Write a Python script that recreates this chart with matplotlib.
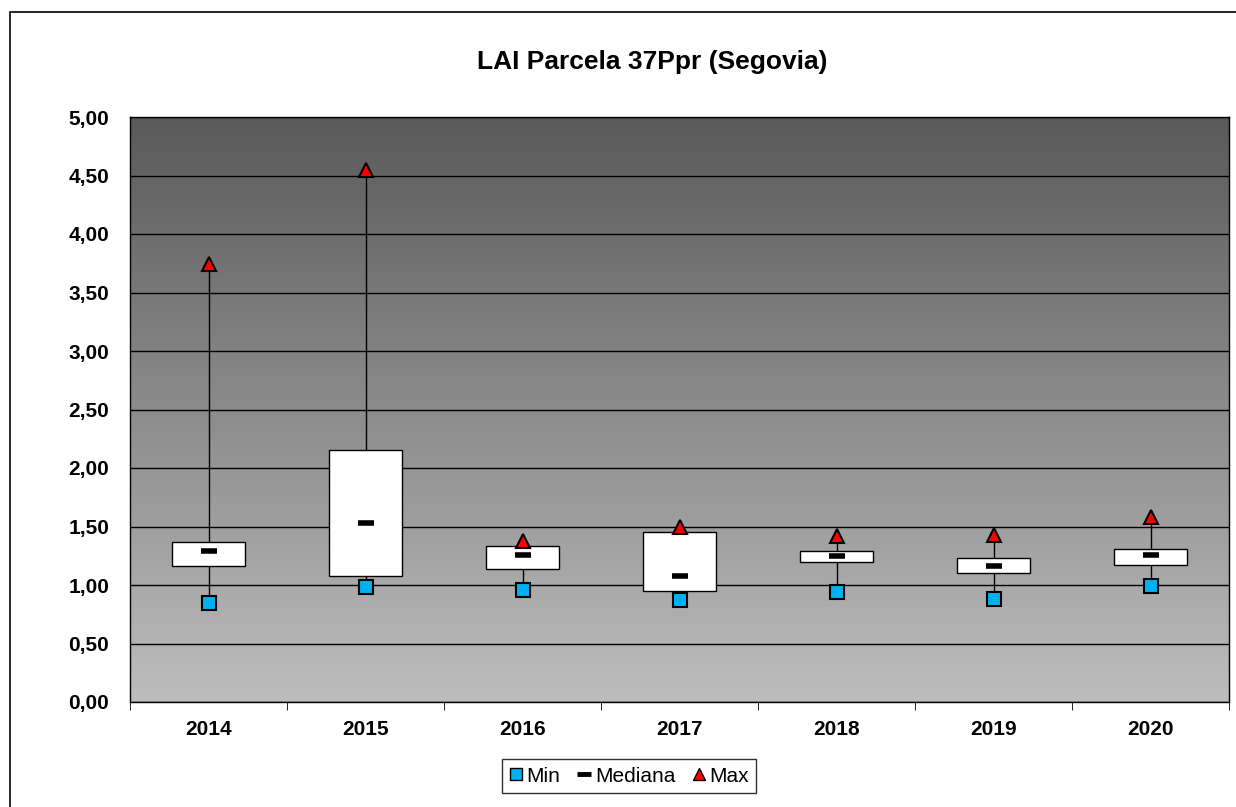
import numpy as np
import matplotlib.pyplot as plt
from matplotlib.patches import Rectangle
from matplotlib.lines import Line2D
from matplotlib.colors import LinearSegmentedColormap

plt.rcParams['font.family'] = ['Liberation Sans', 'DejaVu Sans']

years = ["2014", "2015", "2016", "2017", "2018", "2019", "2020"]
lai_min = [0.85, 0.98, 0.96, 0.87, 0.94, 0.88, 0.99]
lai_q1 = [1.16, 1.08, 1.14, 0.95, 1.20, 1.10, 1.17]
lai_median = [1.29, 1.53, 1.26, 1.08, 1.25, 1.16, 1.26]
lai_q3 = [1.37, 2.15, 1.33, 1.45, 1.29, 1.23, 1.31]
lai_max = [3.74, 4.55, 1.38, 1.50, 1.42, 1.43, 1.58]
yticks = [0, 0.5, 1, 1.5, 2, 2.5, 3, 3.5, 4, 4.5, 5]

fig = plt.figure(figsize=(12.36, 8.07), dpi=100)
ax = fig.add_axes([130/1236, 105/807, 1099/1236, 585/807])

# outer chart border
fig.patches.append(Rectangle((10/1236, -0.05), 1.2, 1 - 12/807 + 0.05,
                             transform=fig.transFigure, fill=False,
                             edgecolor='black', linewidth=1.2))

# gradient background
grad = np.linspace(0, 1, 256).reshape(-1, 1)
cmap = LinearSegmentedColormap.from_list('g', ['#bdbdbd', '#5a5a5a'])
ax.imshow(grad, extent=[0, 1, 0, 1], transform=ax.transAxes, aspect='auto',
          cmap=cmap, origin='lower', zorder=0)

x = np.arange(len(years))
ax.vlines(x, lai_min, lai_max, color='black', linewidth=1, zorder=3)
heights = [b - a for a, b in zip(lai_q1, lai_q3)]
ax.bar(x, heights, bottom=lai_q1, width=0.46, color='white',
       edgecolor='black', linewidth=1, zorder=4)
ax.plot(x, lai_min, 's', color='#00b0f0', markeredgecolor='black',
        markersize=9.5, markeredgewidth=1.5, zorder=5)
ax.plot(x, lai_median, '_', color='black', markersize=11,
        markeredgewidth=4, zorder=5)
ax.plot(x, lai_max, '^', color='#ff0000', markeredgecolor='black',
        markersize=10, markeredgewidth=1.5, zorder=5)

ax.set_xlim(-0.5, len(years) - 0.5)
ax.set_ylim(0, 5)
ax.set_yticks(yticks)
ax.set_yticklabels([f"{v:.2f}".replace('.', ',') for v in yticks],
                   fontsize=15, fontweight='bold')
ax.set_xticks(x)
ax.set_xticklabels(years, fontsize=15, fontweight='bold')
ax.set_xticks(np.arange(-0.5, len(years)), minor=True)
ax.tick_params(axis='x', which='major', length=0, pad=13)
ax.tick_params(axis='x', which='minor', length=6, direction='out')
ax.tick_params(axis='y', length=0, pad=15)
ax.grid(axis='y', color='black', linewidth=1, zorder=1)
ax.set_axisbelow(False)
for s in ax.spines.values():
    s.set_linewidth(1)

fig.text(652/1236, 1 - 62/807, "LAI Parcela 37Ppr (Segovia)", fontsize=19,
         fontweight='bold', ha='center', va='center')

handles = [
    Line2D([], [], marker='s', color='#00b0f0', markeredgecolor='black',
           linestyle='None', markersize=9),
    Line2D([], [], marker='_', color='black', linestyle='None',
           markersize=10, markeredgewidth=3.5),
    Line2D([], [], marker='^', color='#ff0000', markeredgecolor='black',
           linestyle='None', markersize=9),
]
leg = fig.legend(handles, ["Min", "Mediana", "Max"], loc='center',
                 bbox_to_anchor=(629/1236, 1 - 776/807), ncol=3,
                 frameon=True, fancybox=False, fontsize=15,
                 handlelength=0.7, handletextpad=0.15, columnspacing=0.8,
                 borderpad=0.35)
leg.get_frame().set_edgecolor('black')
leg.get_frame().set_linewidth(1)

plt.savefig("out.png", dpi=100)
